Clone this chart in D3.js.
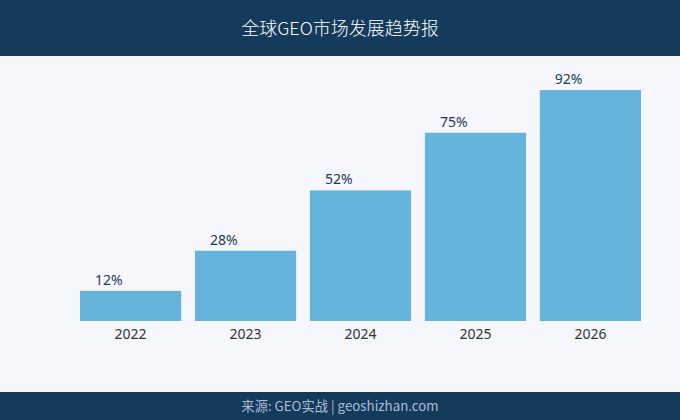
<!DOCTYPE html>
<html>
<head>
<meta charset="utf-8">
<script src="https://cdn.jsdelivr.net/npm/d3@7"></script>
<style>
  body { margin: 0; background: #f5f7fc; }
  svg { display: block; font-family: "Noto Sans", "Noto Sans CJK SC", sans-serif; }
</style>
</head>
<body>
<svg id="chart" width="680" height="420"></svg>
<script>
// chart data
const years = ["2022", "2023", "2024", "2025", "2026"];
const shares = [12, 28, 52, 75, 92];
const titleText = "全球GEO市场发展趋势报";
const sourceText = "来源: GEO实战 | geoshizhan.com";

const W = 680, H = 420;
const svg = d3.select("#chart");

// background + bands
svg.append("rect").attr("width", W).attr("height", H).attr("fill", "#f5f7fc");
svg.append("rect").attr("width", W).attr("height", 56).attr("fill", "#143a5c");
svg.append("rect").attr("y", 392).attr("width", W).attr("height", 28).attr("fill", "#143a5c");

svg.append("text")
  .attr("x", W / 2).attr("y", 35)
  .attr("text-anchor", "middle")
  .attr("fill", "#ffffff")
  .style("font-family", "'Noto Sans CJK SC', 'Noto Sans', sans-serif")
  .style("font-size", "18px")
  .style("font-weight", "300")
  .text(titleText);

svg.append("text")
  .attr("x", W / 2).attr("y", 411)
  .attr("text-anchor", "middle")
  .attr("fill", "#a9bfd6")
  .style("font-family", "'Noto Sans CJK SC', 'Noto Sans', sans-serif")
  .style("font-size", "13.3px")
  .text(sourceText);

// scales
const x = d3.scaleBand()
  .domain(years)
  .range([80, 641])
  .paddingInner(0.12)
  .paddingOuter(0);

const y = d3.scaleLinear()
  .domain([0, 100])
  .range([321, 70]);

const data = years.map((yr, i) => ({ year: yr, value: shares[i] }));

// bars
svg.selectAll(".bar")
  .data(data)
  .enter()
  .append("rect")
  .attr("class", "bar")
  .attr("x", (d) => x(d.year))
  .attr("y", (d) => y(d.value))
  .attr("width", x.bandwidth())
  .attr("height", (d) => y(0) - y(d.value))
  .attr("fill", "#64b3db");

// value labels
svg.selectAll(".val")
  .data(data)
  .enter()
  .append("text")
  .attr("class", "val")
  .attr("x", (d) => x(d.year) + 15)
  .attr("y", (d) => y(d.value) - 6)
  .attr("fill", "#1e3a58")
  .style("font-size", "14px")
  .text((d) => d.value + "%");

// x axis (labels only)
const xAxis = svg.append("g")
  .attr("transform", `translate(0,${y(0)})`)
  .call(d3.axisBottom(x).tickSize(0).tickPadding(8));
xAxis.select(".domain").remove();
xAxis.selectAll("text")
  .attr("fill", "#333333")
  .style("font-size", "14px")
  .style("font-family", "'Noto Sans', sans-serif");
</script>
</body>
</html>
